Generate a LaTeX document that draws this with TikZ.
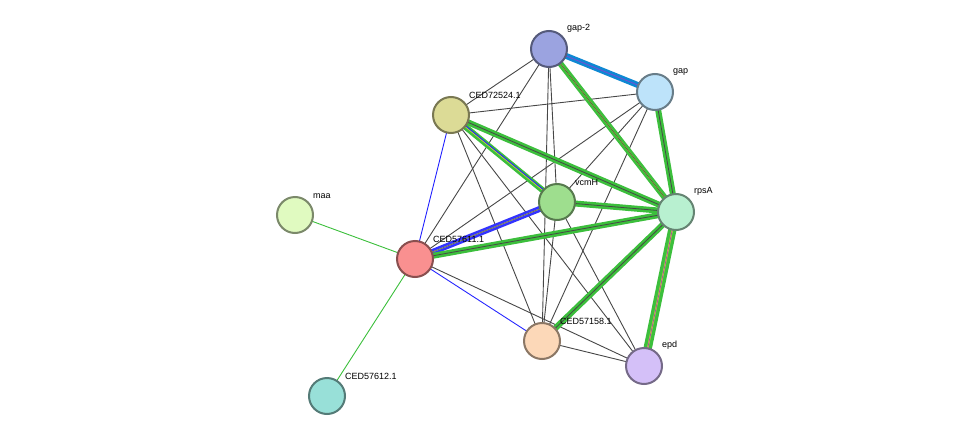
\documentclass[tikz,border=0pt]{standalone}
\usepackage{fontspec}
\setsansfont{Liberation Sans}
\begin{document}
\begin{tikzpicture}[x=1pt,y=-1pt,
  prot/.style={circle,minimum size=36pt,inner sep=0pt,line width=2pt,draw=#1!55!black,fill=#1},
  lab/.style={font=\sffamily\fontsize{9}{10}\selectfont,anchor=south west,inner sep=1pt},
  gr/.style={draw=black!72,line width=0.9pt},
  tri/.style={draw=#1,line width=2.6pt,double=black!72,double distance=0.8pt},
  bl/.style={draw=blue!85!white,line width=0.9pt}]
\useasboundingbox (0,0) rectangle (975,442);
\definecolor{c1}{HTML}{9BA3E0}\definecolor{c2}{HTML}{BDE3FA}\definecolor{c3}{HTML}{DCDB96}
\definecolor{c4}{HTML}{9EDE8E}\definecolor{c5}{HTML}{B8F0D0}\definecolor{c6}{HTML}{E0FAC0}
\definecolor{c7}{HTML}{F99090}\definecolor{c8}{HTML}{FCD8B8}\definecolor{c9}{HTML}{D4C0F8}
\definecolor{c10}{HTML}{98E0D8}\definecolor{lg}{HTML}{3CBF3C}\definecolor{yl}{HTML}{C8D040}
\coordinate (gap2) at (549,49); \coordinate (gap) at (655,92); \coordinate (c72) at (451,115);
\coordinate (vcm) at (557,202); \coordinate (rps) at (676,212); \coordinate (maa) at (295,215);
\coordinate (c611) at (415,259); \coordinate (c158) at (542,341); \coordinate (epd) at (644,366);
\coordinate (c612) at (327,396);
\foreach \a/\b in {gap2/c72,gap2/vcm,gap2/c611,gap2/c158,gap/c72,gap/vcm,gap/c611,gap/c158,
  c72/epd,c72/c158,vcm/c158,vcm/epd,c611/epd,c158/epd}
  \draw[gr] (\a)--(\b);
\draw[draw=cyan!70!blue,line width=2.6pt,double=violet!50!blue!70,double distance=0.8pt] (gap2)--(gap);
\draw[draw=lg,line width=2.6pt,double=yl,double distance=0.8pt] (gap2)--(rps);
\draw[gr,line width=0.5pt] (gap2)--(rps);
\draw[tri=lg] (gap)--(rps);
\draw[draw=lg,line width=2.6pt,double=yl,double distance=0.8pt] (c72)--(vcm);
\draw[bl] ([xshift=1.5pt]c72)--([xshift=1.5pt]vcm);
\draw[tri=lg] (c72)--(rps);
\draw[tri=lg] (vcm)--(rps);
\draw[draw=blue!80,line width=2.6pt,double=yl!70!white,double distance=0.8pt] (c611)--(vcm);
\draw[gr,line width=0.4pt] (c611)--(vcm);
\draw[tri=lg] (c611)--(rps);
\draw[tri=lg] (c158)--(rps);
\draw[draw=lg,line width=3.4pt,double=yl,double distance=1.6pt] (rps)--(epd);
\draw[draw=violet!70,line width=0.7pt] (rps)--(epd);
\draw[bl] (c72)--(c611);
\draw[bl] (c611)--(c158);
\draw[draw=lg,line width=0.9pt] (c611)--(maa);
\draw[draw=lg,line width=0.9pt] (c611)--(c612);
\node[prot=c1] (n1) at (gap2) {}; \node[lab] at (566,34) {gap-2};
\node[prot=c2] (n2) at (gap) {}; \node[lab] at (672,77) {gap};
\node[prot=c3] (n3) at (c72) {}; \node[lab] at (468,100) {CED72524.1};
\node[prot=c4] (n4) at (vcm) {}; \node[lab] at (574,187) {vcmH};
\node[prot=c5] (n5) at (rps) {}; \node[lab] at (693,197) {rpsA};
\node[prot=c6] (n6) at (maa) {}; \node[lab] at (312,200) {maa};
\node[prot=c7] (n7) at (c611) {}; \node[lab] at (432,244) {CED57611.1};
\node[prot=c8] (n8) at (c158) {}; \node[lab] at (559,326) {CED57158.1};
\node[prot=c9] (n9) at (epd) {}; \node[lab] at (661,351) {epd};
\node[prot=c10] (n10) at (c612) {}; \node[lab] at (344,381) {CED57612.1};
\end{tikzpicture}
\end{document}
